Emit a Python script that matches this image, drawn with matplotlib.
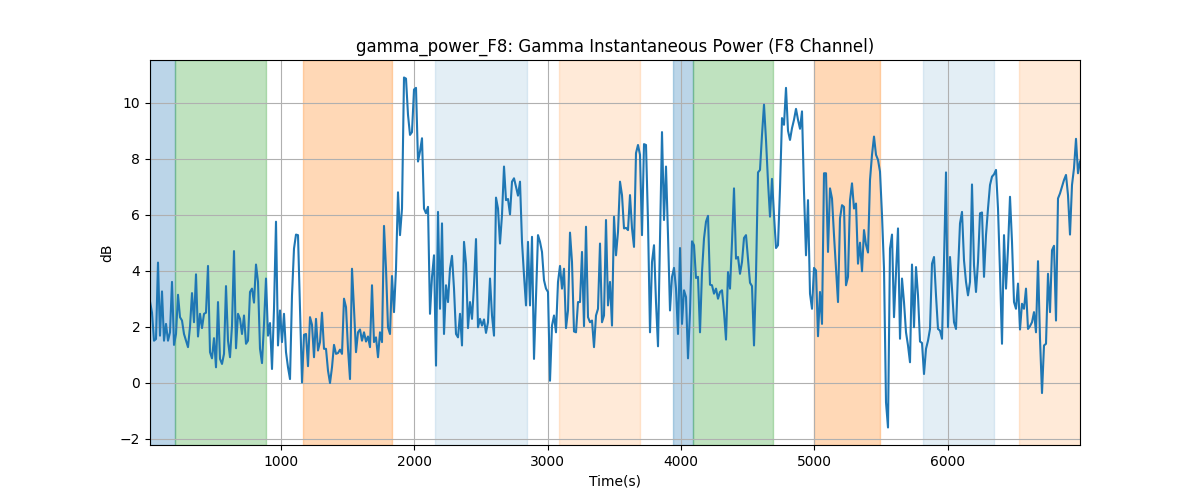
import numpy as np
import matplotlib
matplotlib.use("Agg")
import matplotlib.pyplot as plt

t_start = 18
dt = 15

db_values = [
    # ~18 .. ~888
    2.9, 2.5, 1.5, 1.56, 4.29, 1.68, 3.26, 1.5, 2.1, 1.5, 1.8, 3.6, 1.35, 1.74, 3.14,
    2.34, 2.22, 1.74, 1.5, 1.27, 2.0, 3.2, 2.16, 3.87, 1.65, 2.46, 1.95, 2.46, 2.5, 4.17,
    1.09, 0.87, 1.59, 0.55, 2.88, 0.85, 0.67, 1.03, 3.45, 1.5, 0.91, 2.04, 4.7, 1.23,
    2.46, 2.28, 1.74, 2.4, 1.39, 1.5, 3.24, 3.36, 2.86, 4.22, 3.6, 1.21, 0.7, 2.1, 3.72,
    # ~903 .. ~1758
    1.68, 2.13, 0.49, 2.64, 5.75, 1.33, 2.58, 1.45, 2.46, 1.09,
    0.55, 0.13, 3.12, 4.79, 5.29, 5.27, 2.64, 0.01, 1.71, 1.74,
    0.59, 2.34, 2.07, 0.91, 2.28, 1.15, 1.45, 2.5, 1.21, 1.21,
    0.43, -0.01, 0.55, 1.35, 1.03, 1.06, 1.18, 1.03, 3.0, 2.7,
    1.21, 0.13, 4.07, 2.64, 1.09, 1.8, 1.9, 1.5, 1.8, 1.47,
    1.65, 1.27, 3.48, 1.45, 1.62, 0.91, 1.8, 1.45,
    # ~1773 .. ~2628
    5.6, 4.07, 1.98, 1.74, 3.81, 2.52, 4.07, 6.8, 5.27, 6.22,
    10.9, 10.86, 9.57, 8.85, 8.95, 10.47, 10.53, 7.9, 8.26, 8.73,
    6.22, 6.05, 6.28, 2.46, 3.78, 4.55, 0.61, 6.1, 2.64, 5.69,
    1.74, 3.48, 2.88, 4.07, 4.53, 3.36, 1.74, 1.62, 2.46, 1.33,
    5.03, 4.25, 1.95, 2.88, 2.28, 3.48, 5.13, 1.98, 2.28, 2.04,
    2.26, 1.78, 2.16, 3.72, 2.4, 1.68, 6.61, 6.22,
    # ~2643 .. ~3498
    4.97, 5.99, 7.72, 6.52, 6.56, 6.01, 7.18, 7.3, 7.0, 6.68,
    7.18, 5.03, 3.84, 2.76, 5.03, 2.76, 5.21, 0.85, 3.12, 5.27,
    5.03, 4.67, 3.66, 3.36, 3.24, 0.07, 2.04, 2.4, 1.8, 3.6,
    4.17, 3.36, 4.07, 1.95, 2.58, 5.36, 4.31, 1.83, 1.8, 2.88,
    2.88, 4.67, 2.02, 5.57, 2.34, 2.16, 2.22, 1.27, 2.4, 2.64,
    4.97, 2.16, 2.4, 5.81, 2.76, 3.6, 2.04, 5.93,
    # ~3513 .. ~4368
    4.55, 5.39, 7.18, 6.7, 5.51, 5.53, 5.45, 6.7, 5.51, 4.85,
    8.2, 8.49, 8.14, 5.27, 8.52, 8.49, 5.75, 1.8, 4.31, 4.91,
    2.88, 1.3, 5.03, 8.95, 5.81, 7.72, 5.27, 2.58, 3.78, 4.1,
    3.36, 1.74, 4.81, 2.1, 3.3, 3.06, 0.87, 2.52, 5.05, 4.91,
    3.74, 3.78, 1.8, 3.95, 5.15, 5.75, 5.96, 3.5, 3.48, 3.18,
    3.36, 3.0, 3.24, 3.3, 2.52, 1.54, 3.95, 3.36,
    # ~4383 .. ~5238
    5.03, 6.94, 4.43, 4.49, 3.89, 4.31, 5.17, 5.27, 4.43, 3.57,
    3.45, 1.33, 3.84, 7.51, 7.6, 8.85, 9.93, 8.67, 7.18, 5.93,
    7.28, 5.99, 4.81, 4.91, 6.94, 9.45, 9.21, 10.53, 9.0, 8.67,
    9.09, 9.39, 9.78, 9.39, 9.07, 9.69, 6.82, 4.55, 6.52, 3.18,
    2.64, 4.1, 4.01, 1.66, 3.24, 2.1, 7.48, 7.48, 4.67, 6.94,
    6.58, 5.27, 4.07, 2.88, 5.87, 6.34, 6.28, 3.48,
    # ~5253 .. ~6108
    3.78, 6.52, 7.12, 6.22, 6.4, 4.25, 5.0, 3.98, 5.45, 4.93,
    4.65, 7.24, 8.14, 8.79, 8.14, 7.96, 7.54, 5.99, 4.07, -0.7,
    -1.6, 4.79, 5.29, 2.34, 3.95, 5.51, 1.57, 3.72, 2.88, 1.8,
    1.33, 0.73, 4.22, 1.98, 4.13, 3.12, 1.47, 1.42, 0.31, 1.21,
    1.5, 1.92, 4.25, 4.49, 3.12, 1.92, 1.86, 1.57, 4.31, 7.51,
    1.98, 4.49, 3.36, 2.16, 1.92, 3.95, 5.69, 6.1,
    # ~6123 .. ~6993
    4.37, 3.6, 3.12, 3.6, 7.08, 4.19, 3.24, 4.31, 6.05, 6.08,
    3.78, 5.27, 6.22, 7.06, 7.36, 7.44, 7.6, 6.22, 3.95, 1.39,
    5.27, 3.36, 4.79, 6.64, 5.03, 2.88, 2.64, 3.54, 1.9, 2.82,
    2.64, 3.36, 1.92, 2.02, 2.16, 2.52, 1.8, 4.34, 1.57, -0.37,
    1.33, 1.39, 3.89, 2.52, 4.73, 4.89, 2.22, 6.58, 6.76, 7.0,
    7.24, 7.42, 6.7, 5.29, 7.06, 7.66, 8.71, 7.48, 7.9,
]

# shaded intervals: (start, end, color, alpha)
span_starts = [18, 203, 1165, 2154, 3084, 3939, 4091, 4995, 5813, 6532]
span_ends = [203, 885, 1834, 2842, 3696, 4091, 4693, 5496, 6350, 6993]
span_colors = ["tab:blue", "tab:green", "tab:orange", "tab:blue", "tab:orange",
               "tab:blue", "tab:green", "tab:orange", "tab:blue", "tab:orange"]
span_alphas = [0.3, 0.3, 0.3, 0.12, 0.16, 0.3, 0.3, 0.3, 0.12, 0.16]

times = t_start + dt * np.arange(len(db_values))

fig, ax = plt.subplots(figsize=(12, 5), dpi=100)
for s, e, c, a in zip(span_starts, span_ends, span_colors, span_alphas):
    ax.axvspan(s, e, color=c, alpha=a)
ax.plot(times, db_values, color="tab:blue", linewidth=1.5)
ax.set_xlim(times[0], times[-1])
ax.grid(True)
ax.set_title("gamma_power_F8: Gamma Instantaneous Power (F8 Channel)")
ax.set_xlabel("Time(s)")
ax.set_ylabel("dB")
fig.savefig("out.png")
